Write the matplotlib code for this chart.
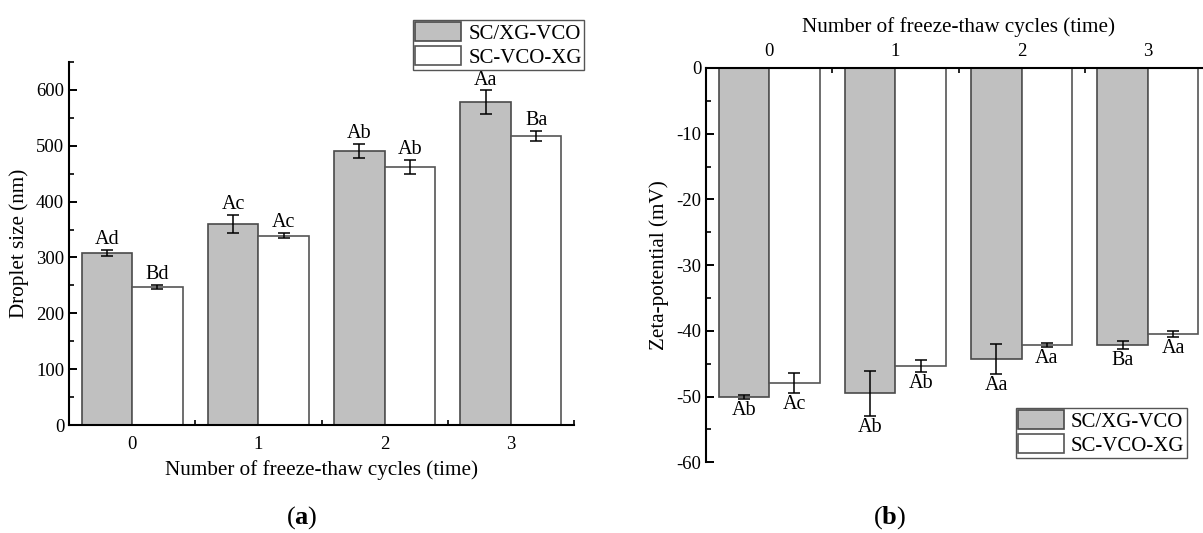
import matplotlib
matplotlib.use("Agg")
import matplotlib.pyplot as plt
from matplotlib.ticker import MultipleLocator
import numpy as np

plt.rcParams['font.family'] = ['Liberation Serif', 'DejaVu Serif']
plt.rcParams['mathtext.fontset'] = 'custom'
plt.rcParams['mathtext.bf'] = 'Liberation Serif:bold'
plt.rcParams['mathtext.rm'] = 'Liberation Serif'

cycles = [0, 1, 2, 3]
series_names = ["SC/XG-VCO", "SC-VCO-XG"]

# Droplet size (nm)
size_sc_xg = [308, 360, 491, 578]
size_sc_xg_err = [6, 16, 13, 21]
size_sc_vco = [247, 339, 462, 518]
size_sc_vco_err = [4, 5, 13, 9]
size_sc_xg_lbl = ["Ad", "Ac", "Ab", "Aa"]
size_sc_vco_lbl = ["Bd", "Ac", "Ab", "Ba"]

# Zeta-potential (mV)
zeta_sc_xg = [-50.0, -49.5, -44.3, -42.2]
zeta_sc_xg_err = [0.3, 3.4, 2.3, 0.6]
zeta_sc_vco = [-47.9, -45.3, -42.1, -40.5]
zeta_sc_vco_err = [1.5, 0.9, 0.3, 0.5]
zeta_sc_xg_lbl = ["Ab", "Ab", "Aa", "Ba"]
zeta_sc_vco_lbl = ["Ac", "Ab", "Aa", "Aa"]

GRAY = "#c0c0c0"
W = 0.4
x = np.array(cycles, dtype=float)

fig = plt.figure(figsize=(12.03, 5.33), dpi=100)
W_PX, H_PX = 1203, 533

def fig_rect(l, r, top, bot):
    return [l / W_PX, 1 - bot / H_PX, (r - l) / W_PX, (bot - top) / H_PX]

TICK_FS = 13.5
LAB_FS = 15.2
ANN_FS = 14.5
LEG_FS = 15
err_kw = dict(ecolor="black", elinewidth=1.1, capsize=4, capthick=1.1)

def style_ticks(ax):
    ax.tick_params(which="major", direction="in", length=6, width=1.4, labelsize=TICK_FS)
    ax.tick_params(which="minor", direction="in", length=3.5, width=1.2)
    for s in ax.spines.values():
        s.set_linewidth(1.5)

# ---------- (a) droplet size ----------
ax1 = fig.add_axes(fig_rect(69, 574, 62, 425))
ax1.bar(x - W / 2, size_sc_xg, W, color=GRAY, edgecolor="#4a4a4a", linewidth=1.2,
        yerr=size_sc_xg_err, error_kw=err_kw, label=series_names[0], zorder=2)
ax1.bar(x + W / 2, size_sc_vco, W, color="white", edgecolor="#555555", linewidth=1.2,
        yerr=size_sc_vco_err, error_kw=err_kw, label=series_names[1], zorder=2)
for xi, v, e, t in zip(x - W / 2, size_sc_xg, size_sc_xg_err, size_sc_xg_lbl):
    ax1.text(xi, v + e + 1, t, ha="center", va="bottom", fontsize=ANN_FS)
for xi, v, e, t in zip(x + W / 2, size_sc_vco, size_sc_vco_err, size_sc_vco_lbl):
    ax1.text(xi, v + e + 1, t, ha="center", va="bottom", fontsize=ANN_FS)
ax1.set_xlim(-0.5, 3.5)
ax1.set_ylim(0, 650)
ax1.set_xticks(cycles)
ax1.set_xticklabels([str(c) for c in cycles])
ax1.xaxis.set_minor_locator(MultipleLocator(0.5))
ax1.yaxis.set_major_locator(MultipleLocator(100))
ax1.yaxis.set_minor_locator(MultipleLocator(50))
ax1.spines["top"].set_visible(False)
ax1.spines["right"].set_visible(False)
style_ticks(ax1)
ax1.tick_params(axis="x", which="major", length=0, pad=8)
ax1.set_xlabel("Number of freeze-thaw cycles (time)", fontsize=LAB_FS, labelpad=5)
ax1.set_ylabel("Droplet size (nm)", fontsize=LAB_FS, labelpad=5)
leg1 = ax1.legend(loc="upper right", bbox_to_anchor=(584 / W_PX, 1 - 20 / H_PX),
                  bbox_transform=fig.transFigure, fontsize=LEG_FS, frameon=True,
                  fancybox=False, edgecolor="#555555", framealpha=1,
                  handlelength=2.2, handleheight=1.05, handletextpad=0.35,
                  labelspacing=0.1, borderpad=0.1, borderaxespad=0)
leg1.get_frame().set_linewidth(1.0)

# ---------- (b) zeta-potential ----------
ax2 = fig.add_axes(fig_rect(706, 1211, 68, 462.3))
ax2.bar(x - W / 2, zeta_sc_xg, W, color=GRAY, edgecolor="#4a4a4a", linewidth=1.2,
        yerr=zeta_sc_xg_err, error_kw=err_kw, label=series_names[0], zorder=2)
ax2.bar(x + W / 2, zeta_sc_vco, W, color="white", edgecolor="#555555", linewidth=1.2,
        yerr=zeta_sc_vco_err, error_kw=err_kw, label=series_names[1], zorder=2)
for xi, v, e, t in zip(x - W / 2, zeta_sc_xg, zeta_sc_xg_err, zeta_sc_xg_lbl):
    ax2.text(xi, v - e - 0.3, t, ha="center", va="top", fontsize=ANN_FS)
for xi, v, e, t in zip(x + W / 2, zeta_sc_vco, zeta_sc_vco_err, zeta_sc_vco_lbl):
    ax2.text(xi, v - e - 0.3, t, ha="center", va="top", fontsize=ANN_FS)
ax2.set_xlim(-0.5, 3.5)
ax2.set_ylim(-60, 0)
ax2.xaxis.tick_top()
ax2.xaxis.set_label_position("top")
ax2.set_xticks(cycles)
ax2.set_xticklabels([str(c) for c in cycles])
ax2.xaxis.set_minor_locator(MultipleLocator(0.5))
ax2.yaxis.set_major_locator(MultipleLocator(10))
ax2.yaxis.set_minor_locator(MultipleLocator(5))
ax2.spines["bottom"].set_visible(False)
ax2.spines["right"].set_visible(False)
style_ticks(ax2)
ax2.tick_params(axis="x", which="major", length=0, pad=6)
ax2.set_yticklabels([f"{int(v)}" for v in ax2.get_yticks()])
ax2.set_xlabel("Number of freeze-thaw cycles (time)", fontsize=LAB_FS, labelpad=8)
ax2.set_ylabel("Zeta-potential (mV)", fontsize=LAB_FS, labelpad=5)
leg2 = ax2.legend(loc="upper right", bbox_to_anchor=(1186.5 / W_PX, 1 - 408 / H_PX),
                  bbox_transform=fig.transFigure, fontsize=LEG_FS, frameon=True,
                  fancybox=False, edgecolor="#555555", framealpha=1,
                  handlelength=2.2, handleheight=1.05, handletextpad=0.35,
                  labelspacing=0.1, borderpad=0.1, borderaxespad=0)
leg2.get_frame().set_linewidth(1.0)

# panel captions
fig.text(302 / W_PX, 1 - 518 / H_PX, r"($\mathbf{a}$)", ha="center", va="center", fontsize=19)
fig.text(890 / W_PX, 1 - 518 / H_PX, r"($\mathbf{b}$)", ha="center", va="center", fontsize=19)

fig.savefig("out.png", dpi=100)
